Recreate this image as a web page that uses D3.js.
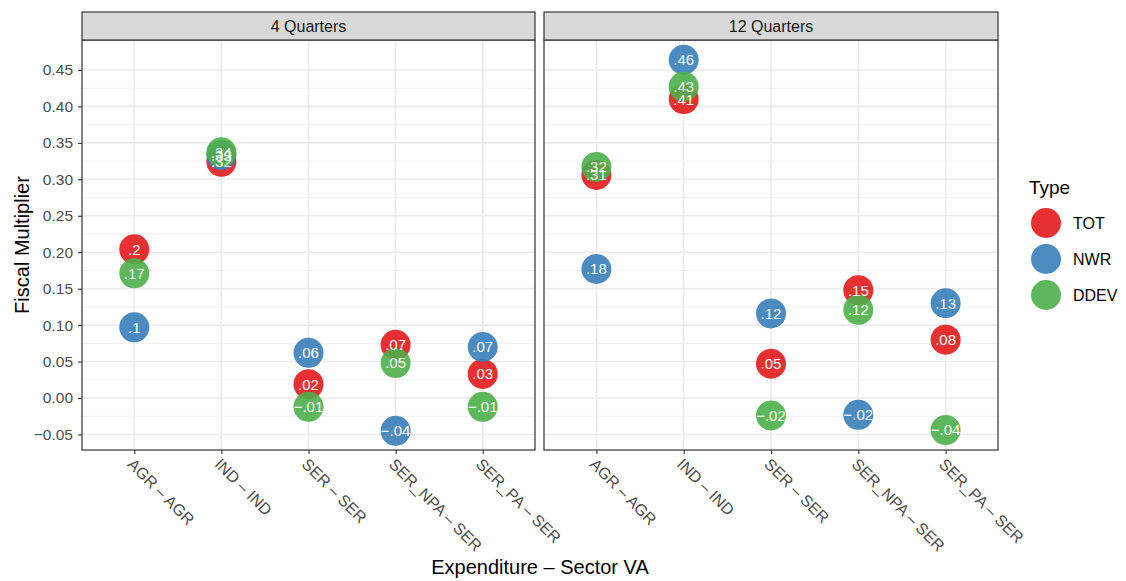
<!DOCTYPE html>
<html>
<head>
<meta charset="utf-8">
<script src="https://cdn.jsdelivr.net/npm/d3@7"></script>
<style>
  body { margin: 0; background: #fff; }
  svg { font-family: "Liberation Sans", Arial, sans-serif; }
</style>
</head>
<body>
<svg id="chart" width="1126" height="581"></svg>
<script>
// Fiscal multipliers by expenditure/sector pair, for two horizons
const categories = ["AGR – AGR", "IND – IND", "SER – SER", "SER_NPA – SER", "SER_PA – SER"];
const panels = ["4 Quarters", "12 Quarters"];
const types = ["TOT", "NWR", "DDEV"];
const typeColors = ["#E41A1C", "#377EB8", "#4DAF4A"];

// values per type, one entry per category
const q4_TOT  = [0.204, 0.324, 0.019, 0.073, 0.033];
const q4_NWR  = [0.097, 0.333, 0.062, -0.045, 0.070];
const q4_DDEV = [0.171, 0.337, -0.012, 0.048, -0.012];

const q12_TOT  = [0.306, 0.410, 0.047, 0.148, 0.080];
const q12_NWR  = [0.177, 0.464, 0.116, -0.023, 0.130];
const q12_DDEV = [0.317, 0.427, -0.024, 0.121, -0.044];

const yTicks = [-0.05, 0, 0.05, 0.10, 0.15, 0.20, 0.25, 0.30, 0.35, 0.40, 0.45];

const panelSeries = [
  [q4_TOT, q4_NWR, q4_DDEV],
  [q12_TOT, q12_NWR, q12_DDEV]
];

const svg = d3.select("#chart");
const plotTop = 40, plotBottom = 450, stripH = 28;
const panelX = [[82, 535], [544, 998]];

const y = d3.scaleLinear().domain([-0.0713, 0.4911]).range([plotBottom, plotTop]);
const color = d3.scaleOrdinal().domain(types).range(typeColors);

// label text: two decimals, trailing zeros and the leading zero dropped
function fmt(v) {
  let s = d3.format(".2f")(Math.abs(v)).replace(/0+$/, "").replace(/\.$/, "");
  s = s.replace(/^0/, "");
  return (v < 0 ? "\u2212" : "") + s;
}

const minorTicks = [];
for (let i = 0; i < yTicks.length - 1; i++) minorTicks.push((yTicks[i] + yTicks[i + 1]) / 2);

panels.forEach((name, p) => {
  const [x0, x1] = panelX[p];
  const x = d3.scalePoint().domain(categories).range([x0, x1]).padding(0.6);
  const g = svg.append("g");

  // grid
  g.selectAll(".ymin").data(minorTicks).join("line")
    .attr("x1", x0).attr("x2", x1)
    .attr("y1", d => y(d)).attr("y2", d => y(d))
    .attr("stroke", "#f0f0f0").attr("stroke-width", 1);
  g.selectAll(".ymaj").data(yTicks).join("line")
    .attr("x1", x0).attr("x2", x1)
    .attr("y1", d => y(d)).attr("y2", d => y(d))
    .attr("stroke", "#ebebeb").attr("stroke-width", 1.6);
  g.selectAll(".xmaj").data(categories).join("line")
    .attr("x1", d => x(d)).attr("x2", d => x(d))
    .attr("y1", plotTop).attr("y2", plotBottom)
    .attr("stroke", "#ebebeb").attr("stroke-width", 1.6);

  // points
  types.forEach((t, ti) => {
    const vals = panelSeries[p][ti];
    g.selectAll(".pt" + ti).data(vals).join("circle")
      .attr("cx", (d, i) => x(categories[i]))
      .attr("cy", d => y(d))
      .attr("r", 15)
      .attr("fill", color(t))
      .attr("fill-opacity", 0.9);
  });
  // value labels
  types.forEach((t, ti) => {
    const vals = panelSeries[p][ti];
    g.selectAll(".lb" + ti).data(vals).join("text")
      .attr("x", (d, i) => x(categories[i]))
      .attr("y", d => y(d))
      .attr("dy", "0.36em")
      .attr("text-anchor", "middle")
      .attr("fill", "#fff")
      .attr("font-size", 15)
      .text(d => fmt(d));
  });

  // border
  g.append("rect").attr("x", x0).attr("y", plotTop).attr("width", x1 - x0).attr("height", plotBottom - plotTop)
    .attr("fill", "none").attr("stroke", "#333").attr("stroke-width", 1.2);

  // strip
  g.append("rect").attr("x", x0).attr("y", plotTop - stripH).attr("width", x1 - x0).attr("height", stripH)
    .attr("fill", "#d9d9d9").attr("stroke", "#333").attr("stroke-width", 1.2);
  g.append("text").attr("x", (x0 + x1) / 2).attr("y", plotTop - stripH / 2).attr("dy", "0.35em")
    .attr("text-anchor", "middle").attr("font-size", 16).attr("fill", "#1a1a1a").text(name);

  // x axis
  const xa = svg.append("g").attr("transform", `translate(0,${plotBottom})`)
    .call(d3.axisBottom(x).tickSize(4).tickSizeOuter(0));
  xa.select(".domain").remove();
  xa.attr("font-family", null);
  xa.selectAll(".tick line").attr("stroke", "#333").attr("stroke-width", 1.1);
  xa.selectAll(".tick text")
    .attr("font-size", 16).attr("fill", "#4d4d4d")
    .attr("text-anchor", "start")
    .attr("x", 0).attr("y", 0).attr("dy", "0.72em")
    .attr("transform", "translate(0,7) rotate(45)");
});

// y axis on left panel
const ya = svg.append("g").attr("transform", `translate(${panelX[0][0]},0)`)
  .call(d3.axisLeft(y).tickValues(yTicks).tickSize(4)
    .tickFormat(d => (d < 0 ? "\u2212" : "") + d3.format(".2f")(Math.abs(d))));
ya.select(".domain").remove();
ya.attr("font-family", null);
ya.selectAll(".tick line").attr("stroke", "#333").attr("stroke-width", 1.1);
ya.selectAll(".tick text").attr("font-size", 15.5).attr("fill", "#4d4d4d").attr("x", -9);

// axis titles
svg.append("text").attr("x", (panelX[0][0] + panelX[1][1]) / 2).attr("y", 574)
  .attr("text-anchor", "middle").attr("font-size", 20).attr("fill", "#000")
  .text("Expenditure \u2013 Sector VA");
svg.append("text").attr("transform", `translate(29,${(plotTop + plotBottom) / 2}) rotate(-90)`)
  .attr("text-anchor", "middle").attr("font-size", 20).attr("fill", "#000")
  .text("Fiscal Multiplier");

// legend
const lg = svg.append("g").attr("transform", "translate(1029,0)");
lg.append("text").attr("x", 0).attr("y", 194).attr("font-size", 19).attr("fill", "#000").text("Type");
types.forEach((t, i) => {
  const cy = 223 + i * 36;
  lg.append("circle").attr("cx", 17).attr("cy", cy).attr("r", 15)
    .attr("fill", color(t)).attr("fill-opacity", 0.9);
  lg.append("text").attr("x", 44).attr("y", cy).attr("dy", "0.36em")
    .attr("font-size", 16).attr("fill", "#000").text(t);
});
</script>
</body>
</html>
